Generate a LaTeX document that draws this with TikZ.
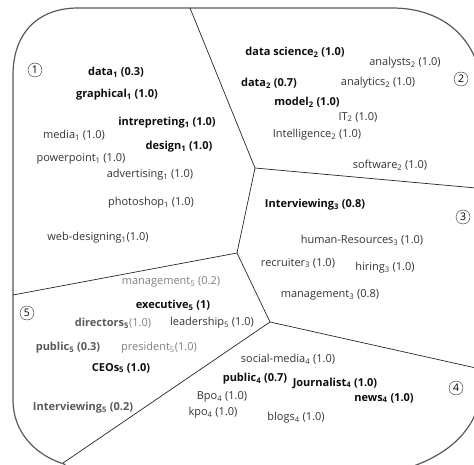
\documentclass[tikz,border=0pt]{standalone}
\usepackage{fontspec}
\setmainfont{Open Sans}
\usetikzlibrary{positioning}

\begin{document}
\begin{tikzpicture}[x=1pt, y=-1pt,
  frame/.style={draw=black!65, line width=1.2pt},
  border/.style={draw=black!85, line width=0.7pt},
  term/.style={font=\fontsize{11}{13}\selectfont, text=black!80, inner sep=0pt},
  key/.style={term, font=\fontsize{11}{13}\selectfont\bfseries, text=black!95},
  dimkey/.style={key, text=black!65},
  faint/.style={term, text=black!50},
  tag/.style={draw=black!85, circle, inner sep=0pt, minimum size=14pt,
              font=\fontsize{10.5}{10.5}\selectfont},
]
\useasboundingbox (0,0) rectangle (474,465);
\clip (0,0) rectangle (474,465);

% ---- Outer frame ----
\draw[frame] (13,400) -- (13,75) .. controls (13,33) and (38,8) .. (78,8)
  -- (392,8) .. controls (440,8) and (476,35) .. (482,85)
  -- (482,380) .. controls (482,440) and (430,470) .. (360,478)
  -- (90,480) .. controls (78,476) and (70,470) .. (64,464)
  .. controls (35,455) and (13,432) .. (13,400);

% ---- Region corners ----
\coordinate (v13) at (255,168);
\coordinate (v135) at (237,253);
\coordinate (v345) at (270,322);
\coordinate (top12) at (190,8);
\coordinate (rt23) at (476,188);
\coordinate (lf15) at (13,295);
\coordinate (rt34) at (476,368);
\coordinate (bt45) at (63,463);

% ---- Region borders ----
\draw[border] (top12) -- (v13) -- (rt23);
\draw[border] (v13) -- (v135) -- (lf15);
\draw[border] (v135) -- (v345) -- (rt34);
\draw[border] (v345) -- (bt45);

% ---- Region tags ----
\node[tag] (t1) at (35,70) {1};
\node[tag] (t2) at (461,79) {2};
\node[tag] (t3) at (463,217) {3};
\node[tag] (t4) at (456,388) {4};
\node[tag] (t5) at (27,313) {5};

% ---- Region 1 ----
\node[key] (data1) at (116,72) {data\textsubscript{1} (0.3)};
\node[key] (graph1) at (117,95) {graphical\textsubscript{1} (1.0)};
\node[key] (intr1) at (167,123) {intrepreting\textsubscript{1} (1.0)};
\node[term] (media1) at (74,135) {media\textsubscript{1} (1.0)};
\node[key] (design1) at (179,147) {design\textsubscript{1} (1.0)};
\node[term] (ppt1) at (81,159) {powerpoint\textsubscript{1} (1.0)};
\node[term] (adv1) at (150,175) {advertising\textsubscript{1} (1.0)};
\node[term] (photo1) at (151,203) {photoshop\textsubscript{1} (1.0)};
\node[term] (web1) at (98,238) {web-designing\textsubscript{1}(1.0)};

% ---- Region 2 ----
\node[key] (dsci2) at (295,52) {data science\textsubscript{2} (1.0)};
\node[term] (anly2) at (405,63) {analysts\textsubscript{2} (1.0)};
\node[key] (data2) at (269,83) {data\textsubscript{2} (0.7)};
\node[term] (anlt2) at (378,83) {analytics\textsubscript{2} (1.0)};
\node[key] (model2) at (307,102) {model\textsubscript{2} (1.0)};
\node[term] (it2) at (358,117) {IT\textsubscript{2} (1.0)};
\node[term] (intl2) at (317,135) {Intelligence\textsubscript{2} (1.0)};
\node[term] (soft2) at (390,165) {software\textsubscript{2} (1.0)};

% ---- Region 3 ----
\node[key] (intv3) at (315,205) {Interviewing\textsubscript{3} (0.8)};
\node[term] (hr3) at (362,240) {human-Resources\textsubscript{3} (1.0)};
\node[term] (recr3) at (298,263) {recruiter\textsubscript{3} (1.0)};
\node[term] (hire3) at (385,268) {hiring\textsubscript{3} (1.0)};
\node[term] (mgmt3) at (330,295) {management\textsubscript{3} (0.8)};

% ---- Region 4 ----
\node[term] (soc4) at (288,359) {social-media\textsubscript{4} (1.0)};
\node[key] (pub4) at (255,379) {public\textsubscript{4} (0.7)};
\node[key] (jour4) at (335,383) {Journalist\textsubscript{4} (1.0)};
\node[key] (news4) at (384,398) {news\textsubscript{4} (1.0)};
\node[term] (bpo4) at (222,397) {Bpo\textsubscript{4} (1.0)};
\node[term] (kpo4) at (213,413) {kpo\textsubscript{4} (1.0)};
\node[term] (blog4) at (296,418) {blogs\textsubscript{4} (1.0)};

% ---- Region 5 ----
\node[faint] (mgmt5) at (171,282) {management\textsubscript{5} (0.2)};
\node[key] (exec5) at (173,305) {executive\textsubscript{5} (1)};
\node[dimkey] (dir5) at (113,323) {directors\textsubscript{5}{\mdseries\color{black!50}(1.0)}};
\node[term] (lead5) at (212,323) {leadership\textsubscript{5} (1.0)};
\node[dimkey] (pub5) at (68,348) {public\textsubscript{5} (0.3)};
\node[faint] (pres5) at (159,348) {president\textsubscript{5}(1.0)};
\node[key] (ceo5) at (121,368) {CEOs\textsubscript{5} (1.0)};
\node[dimkey] (intv5) at (83,408) {Interviewing\textsubscript{5} (0.2)};

\end{tikzpicture}
\end{document}
